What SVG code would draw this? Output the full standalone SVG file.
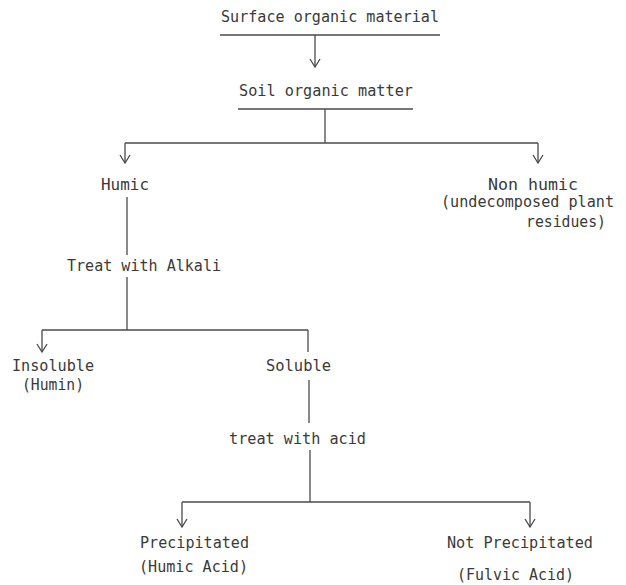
<svg xmlns="http://www.w3.org/2000/svg" width="626" height="585" viewBox="0 0 626 585">
<defs>
<style>
text{font-family:"DejaVu Sans Mono","Liberation Mono",monospace;font-size:15px;fill:#3a3a3a}
.ln{stroke:#4a4a4a;stroke-width:1.3;fill:none}
.ar{stroke:#4a4a4a;stroke-width:1.3;fill:none;marker-end:url(#v)}
</style>
<marker id="v" viewBox="0 0 10 12" refX="9" refY="6" markerWidth="10" markerHeight="12" markerUnits="userSpaceOnUse" orient="auto">
<path d="M1,1 L9,6 L1,11" fill="none" stroke="#4a4a4a" stroke-width="1.3"/>
</marker>
</defs>
<rect width="626" height="585" fill="#fff"/>
<g id="surface">
<text x="221" y="22" textLength="218" lengthAdjust="spacingAndGlyphs">Surface organic material</text>
<line class="ln" x1="220" y1="35" x2="440" y2="35"/>
</g>
<g id="soil">
<text x="239" y="96" textLength="174" lengthAdjust="spacingAndGlyphs">Soil organic matter</text>
<line class="ln" x1="238" y1="109" x2="413" y2="109"/>
</g>
<g id="humic">
<text x="101" y="190" textLength="48" lengthAdjust="spacingAndGlyphs">Humic</text>
</g>
<g id="nonhumic">
<text x="488" y="190" textLength="90" lengthAdjust="spacingAndGlyphs">Non humic</text>
<text x="441" y="207" textLength="173" lengthAdjust="spacingAndGlyphs">(undecomposed plant</text>
<text x="526" y="227" textLength="80" lengthAdjust="spacingAndGlyphs">residues)</text>
</g>
<g id="alkali">
<text x="67" y="271" textLength="154" lengthAdjust="spacingAndGlyphs">Treat with Alkali</text>
</g>
<g id="insoluble">
<text x="12" y="371" textLength="82" lengthAdjust="spacingAndGlyphs">Insoluble</text>
<text x="22" y="390" textLength="62" lengthAdjust="spacingAndGlyphs">(Humin)</text>
</g>
<g id="soluble">
<text x="266" y="371" textLength="65" lengthAdjust="spacingAndGlyphs">Soluble</text>
</g>
<g id="acid">
<text x="229" y="444" textLength="137" lengthAdjust="spacingAndGlyphs">treat with acid</text>
</g>
<g id="precipitated">
<text x="140" y="548" textLength="109" lengthAdjust="spacingAndGlyphs">Precipitated</text>
<text x="139" y="572" textLength="109" lengthAdjust="spacingAndGlyphs">(Humic Acid)</text>
</g>
<g id="notprecipitated">
<text x="447" y="548" textLength="146" lengthAdjust="spacingAndGlyphs">Not Precipitated</text>
<text x="457" y="580" textLength="117" lengthAdjust="spacingAndGlyphs">(Fulvic Acid)</text>
</g>
<g id="connectors">
<line class="ar" x1="315" y1="35" x2="315" y2="67"/>
<line class="ln" x1="325" y1="109" x2="325" y2="143"/>
<line class="ln" x1="125" y1="143" x2="538" y2="143"/>
<line class="ar" x1="125" y1="143" x2="125" y2="163"/>
<line class="ar" x1="538" y1="143" x2="538" y2="163"/>
<line class="ln" x1="127" y1="197" x2="127" y2="255"/>
<line class="ln" x1="127" y1="277" x2="127" y2="330"/>
<line class="ln" x1="42" y1="330" x2="308" y2="330"/>
<line class="ar" x1="42" y1="330" x2="42" y2="352"/>
<line class="ln" x1="308" y1="330" x2="308" y2="352"/>
<line class="ln" x1="309" y1="380" x2="309" y2="423"/>
<line class="ln" x1="310" y1="450" x2="310" y2="502"/>
<line class="ln" x1="182" y1="502" x2="530" y2="502"/>
<line class="ar" x1="182" y1="502" x2="182" y2="527"/>
<line class="ar" x1="530" y1="502" x2="530" y2="527"/>
</g>
</svg>
